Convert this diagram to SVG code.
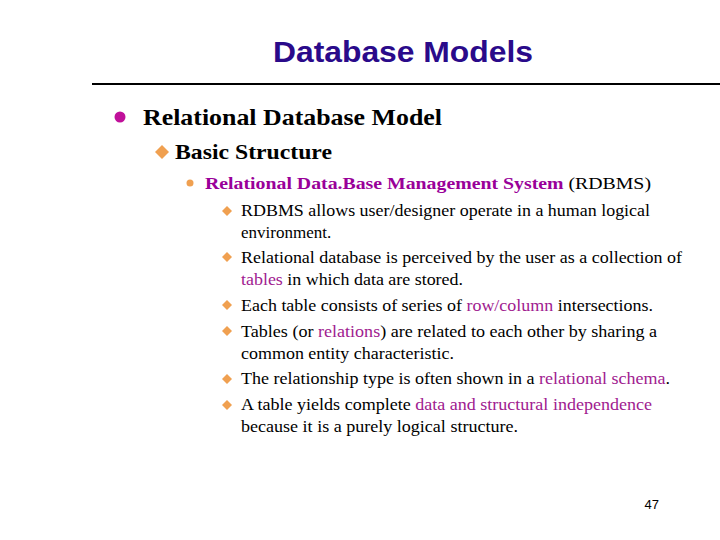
<svg xmlns="http://www.w3.org/2000/svg" width="720" height="540" viewBox="0 0 720 540">
<style>
.s{font-family:"Liberation Serif",serif;fill:#000}
.b{font-size:17px}
.m{fill:#A0208F}
.d{fill:#F0A050}
</style>
<rect width="720" height="540" fill="#fff"/>
<text x="403" y="62" text-anchor="middle" font-family="Liberation Sans,sans-serif" font-size="29" font-weight="bold" fill="#2A0A8A" textLength="260" lengthAdjust="spacingAndGlyphs">Database Models</text>
<line x1="92" y1="84" x2="720" y2="84" stroke="#000" stroke-width="2"/>
<circle cx="120" cy="117" r="5.5" fill="#C0109A"/>
<text class="s" x="143" y="125" font-size="23" font-weight="bold" textLength="299" lengthAdjust="spacingAndGlyphs">Relational Database Model</text>
<path d="M155 152 l7 -7 7 7 -7 7z" class="d"/>
<text class="s" x="175" y="159" font-size="21" font-weight="bold" textLength="157" lengthAdjust="spacingAndGlyphs">Basic Structure</text>
<circle cx="190" cy="183" r="3.5" class="d"/>
<text class="s" x="205" y="189" font-size="17" textLength="446" lengthAdjust="spacingAndGlyphs"><tspan font-weight="bold" fill="#990099">Relational Data.Base Management System</tspan> (RDBMS)</text>
<g class="d">
<path d="M222 211 l5 -5 5 5 -5 5z"/>
<path d="M222 257 l5 -5 5 5 -5 5z"/>
<path d="M222 305 l5 -5 5 5 -5 5z"/>
<path d="M222 331 l5 -5 5 5 -5 5z"/>
<path d="M222 379 l5 -5 5 5 -5 5z"/>
<path d="M222 405 l5 -5 5 5 -5 5z"/>
</g>
<g class="s b">
<text x="241" y="216" textLength="409" lengthAdjust="spacingAndGlyphs">RDBMS allows user/designer operate in a human logical</text>
<text x="241" y="238">environment.</text>
<text x="241" y="263" textLength="441" lengthAdjust="spacingAndGlyphs">Relational database is perceived by the user as a collection of</text>
<text x="241" y="285" textLength="222" lengthAdjust="spacingAndGlyphs"><tspan class="m">tables</tspan> in which data are stored.</text>
<text x="241" y="311" textLength="412" lengthAdjust="spacingAndGlyphs">Each table consists of series of <tspan class="m">row/column</tspan> intersections.</text>
<text x="241" y="337" textLength="416" lengthAdjust="spacingAndGlyphs">Tables (or <tspan class="m">relations</tspan>) are related to each other by sharing a</text>
<text x="241" y="359" textLength="213" lengthAdjust="spacingAndGlyphs">common entity characteristic.</text>
<text x="241" y="384" textLength="429" lengthAdjust="spacingAndGlyphs">The relationship type is often shown in a <tspan class="m">relational schema</tspan>.</text>
<text x="241" y="410" textLength="411" lengthAdjust="spacingAndGlyphs">A table yields complete <tspan class="m">data and structural independence</tspan></text>
<text x="241" y="432" textLength="277" lengthAdjust="spacingAndGlyphs">because it is a purely logical structure.</text>
</g>
<text x="659" y="509" text-anchor="end" font-family="Liberation Sans,sans-serif" font-size="13">47</text>
</svg>
